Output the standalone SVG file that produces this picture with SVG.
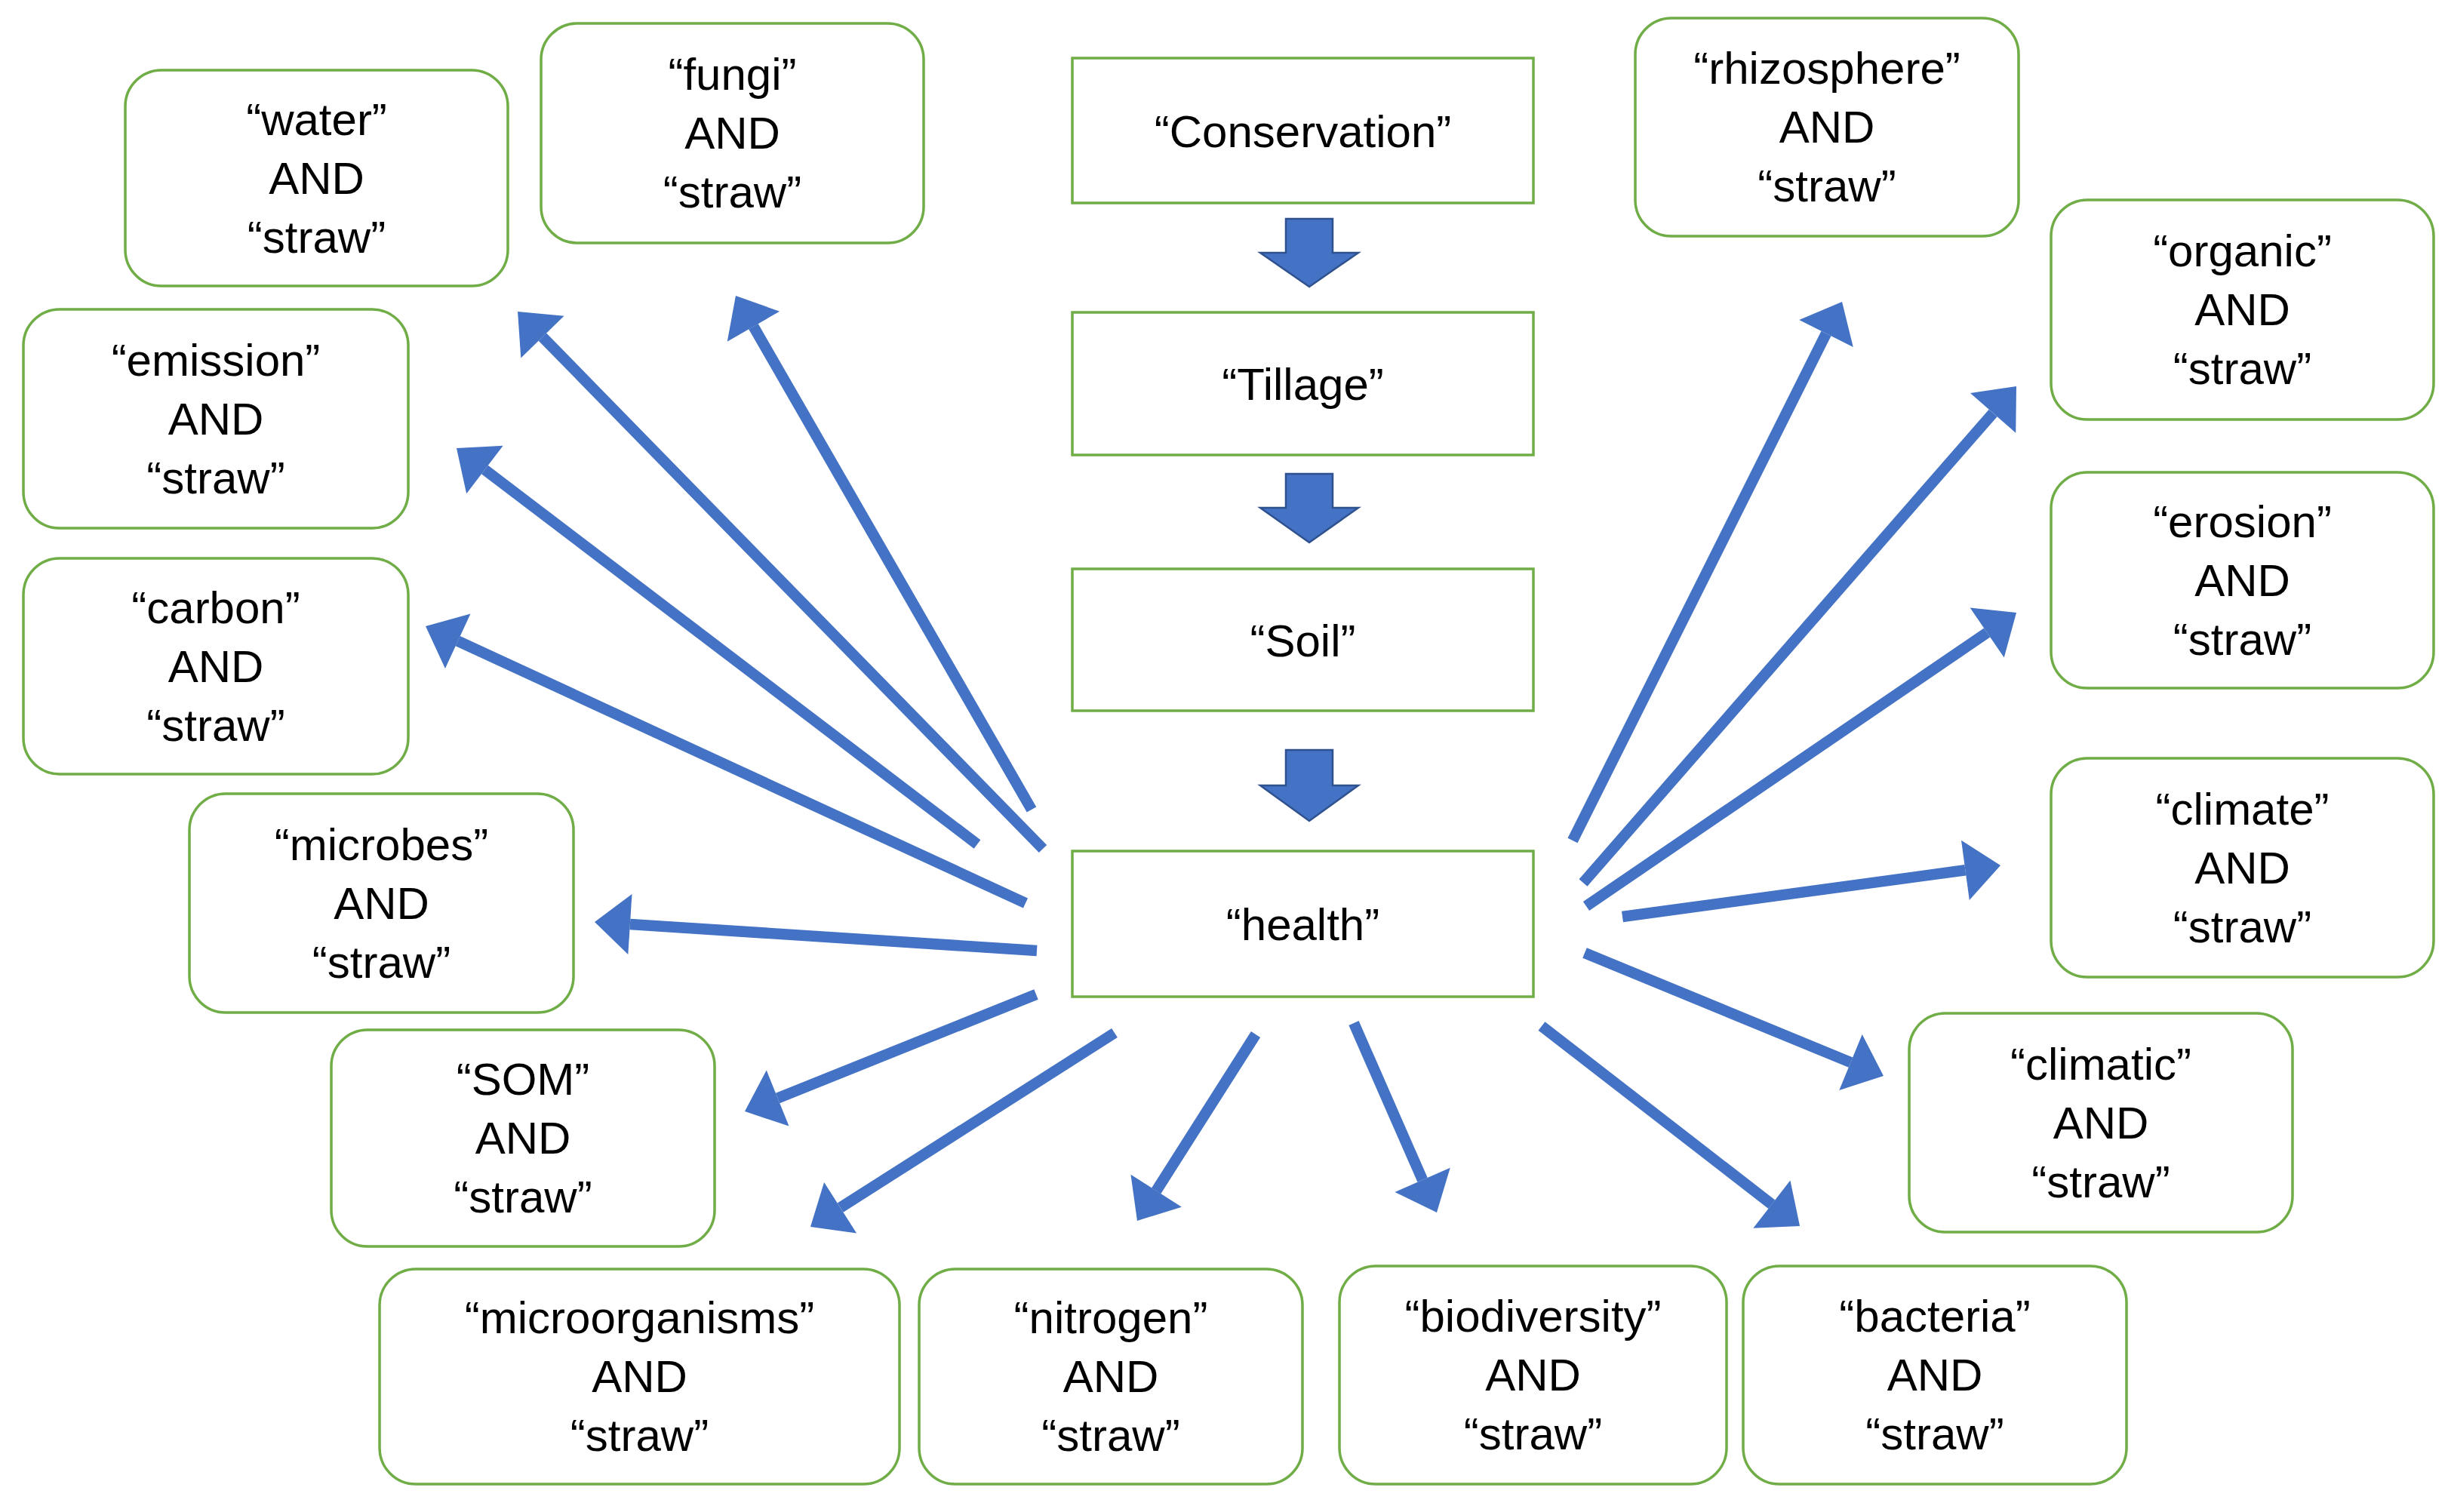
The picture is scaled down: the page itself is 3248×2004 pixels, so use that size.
<svg xmlns="http://www.w3.org/2000/svg" width="3248" height="2004" viewBox="0 0 3248 2004">
<style>
.box{fill:#fff;stroke:#70AD47;stroke-width:3.5}
.t{font-family:"Liberation Sans",Arial,sans-serif;font-size:60px;fill:#000;text-anchor:middle}
.blk{fill:#4472C4;stroke:#2F528F;stroke-width:2.5;stroke-linejoin:miter}
.ln{stroke:#4472C4;stroke-width:14.5;fill:none;stroke-linecap:butt;marker-end:url(#ah)}
</style>
<defs>
<marker id="ah" markerUnits="userSpaceOnUse" markerWidth="50" markerHeight="84" viewBox="0 -42 48 84" refX="0" refY="0" orient="auto">
<path d="M0,-40 L47,0 L0,40 Z" fill="#4472C4"/>
</marker>
</defs>
<rect width="3248" height="2004" fill="#fff"/>

<g id="connectors">
<polygon class="blk" points="1704,290 1766,290 1766,335 1800,335 1735,380 1670,335 1704,335"/>
<polygon class="blk" points="1704,628 1766,628 1766,673 1800,673 1735,719 1670,673 1704,673"/>
<polygon class="blk" points="1704,994 1766,994 1766,1041 1800,1041 1735,1088 1670,1041 1704,1041"/>
<line class="ln" x1="1367" y1="1073" x2="998.4" y2="432.7"/>
<line class="ln" x1="1382" y1="1125" x2="718.9" y2="446.6"/>
<line class="ln" x1="1295" y1="1119" x2="642.4" y2="622.5"/>
<line class="ln" x1="1359" y1="1197" x2="606.7" y2="849.7"/>
<line class="ln" x1="1374" y1="1260" x2="834.9" y2="1225"/>
<line class="ln" x1="1373" y1="1318" x2="1030.6" y2="1455.5"/>
<line class="ln" x1="1477" y1="1369" x2="1113.6" y2="1600.7"/>
<line class="ln" x1="1664" y1="1371" x2="1532.2" y2="1578.3"/>
<line class="ln" x1="1794" y1="1356" x2="1885.1" y2="1563.9"/>
<line class="ln" x1="2043" y1="1360" x2="2347.9" y2="1596.2"/>
<line class="ln" x1="2100" y1="1263" x2="2452.5" y2="1408.1"/>
<line class="ln" x1="2150" y1="1215" x2="2604.4" y2="1153.3"/>
<line class="ln" x1="2102" y1="1201" x2="2633.2" y2="838.5"/>
<line class="ln" x1="2098" y1="1170" x2="2641.1" y2="547.4"/>
<line class="ln" x1="2084" y1="1114" x2="2420" y2="442"/>
</g>

<g id="conservation"><rect class="box" x="1421" y="77" width="611" height="192"/><text class="t" x="1726.5" y="195">“Conservation”</text></g>
<g id="tillage"><rect class="box" x="1421" y="414" width="611" height="189"/><text class="t" x="1726.5" y="530">“Tillage”</text></g>
<g id="soil"><rect class="box" x="1421" y="754" width="611" height="188"/><text class="t" x="1726.5" y="870">“Soil”</text></g>
<g id="health"><rect class="box" x="1421" y="1128" width="611" height="193"/><text class="t" x="1726.5" y="1246">“health”</text></g>

<g id="water"><rect class="box" x="166" y="93" width="507" height="286" rx="48"/>
<text class="t" x="419.5" y="179">“water”</text><text class="t" x="419.5" y="257">AND</text><text class="t" x="419.5" y="335">“straw”</text></g>
<g id="fungi"><rect class="box" x="717" y="31" width="507" height="291" rx="48"/>
<text class="t" x="970.5" y="119">“fungi”</text><text class="t" x="970.5" y="197">AND</text><text class="t" x="970.5" y="275">“straw”</text></g>
<g id="emission"><rect class="box" x="31" y="410" width="510" height="290" rx="48"/>
<text class="t" x="286" y="498">“emission”</text><text class="t" x="286" y="576">AND</text><text class="t" x="286" y="654">“straw”</text></g>
<g id="carbon"><rect class="box" x="31" y="740" width="510" height="286" rx="48"/>
<text class="t" x="286" y="826">“carbon”</text><text class="t" x="286" y="904">AND</text><text class="t" x="286" y="982">“straw”</text></g>
<g id="microbes"><rect class="box" x="251" y="1052" width="509" height="290" rx="48"/>
<text class="t" x="505.5" y="1140">“microbes”</text><text class="t" x="505.5" y="1218">AND</text><text class="t" x="505.5" y="1296">“straw”</text></g>
<g id="som"><rect class="box" x="439" y="1365" width="508" height="287" rx="48"/>
<text class="t" x="693" y="1451">“SOM”</text><text class="t" x="693" y="1529">AND</text><text class="t" x="693" y="1607">“straw”</text></g>
<g id="microorganisms"><rect class="box" x="503" y="1682" width="689" height="285" rx="48"/>
<text class="t" x="847.5" y="1767">“microorganisms”</text><text class="t" x="847.5" y="1845">AND</text><text class="t" x="847.5" y="1923">“straw”</text></g>
<g id="nitrogen"><rect class="box" x="1218" y="1682" width="508" height="285" rx="48"/>
<text class="t" x="1472" y="1767">“nitrogen”</text><text class="t" x="1472" y="1845">AND</text><text class="t" x="1472" y="1923">“straw”</text></g>
<g id="biodiversity"><rect class="box" x="1775" y="1678" width="513" height="289" rx="48"/>
<text class="t" x="2031.5" y="1765">“biodiversity”</text><text class="t" x="2031.5" y="1843">AND</text><text class="t" x="2031.5" y="1921">“straw”</text></g>
<g id="bacteria"><rect class="box" x="2310" y="1678" width="508" height="289" rx="48"/>
<text class="t" x="2564" y="1765">“bacteria”</text><text class="t" x="2564" y="1843">AND</text><text class="t" x="2564" y="1921">“straw”</text></g>
<g id="climatic"><rect class="box" x="2530" y="1343" width="508" height="290" rx="48"/>
<text class="t" x="2784" y="1431">“climatic”</text><text class="t" x="2784" y="1509">AND</text><text class="t" x="2784" y="1587">“straw”</text></g>
<g id="climate"><rect class="box" x="2718" y="1005" width="507" height="290" rx="48"/>
<text class="t" x="2971.5" y="1093">“climate”</text><text class="t" x="2971.5" y="1171">AND</text><text class="t" x="2971.5" y="1249">“straw”</text></g>
<g id="erosion"><rect class="box" x="2718" y="626" width="507" height="286" rx="48"/>
<text class="t" x="2971.5" y="712">“erosion”</text><text class="t" x="2971.5" y="790">AND</text><text class="t" x="2971.5" y="868">“straw”</text></g>
<g id="organic"><rect class="box" x="2718" y="265" width="507" height="291" rx="48"/>
<text class="t" x="2971.5" y="353">“organic”</text><text class="t" x="2971.5" y="431">AND</text><text class="t" x="2971.5" y="509">“straw”</text></g>
<g id="rhizosphere"><rect class="box" x="2167" y="24" width="508" height="289" rx="48"/>
<text class="t" x="2421" y="111">“rhizosphere”</text><text class="t" x="2421" y="189">AND</text><text class="t" x="2421" y="267">“straw”</text></g>
</svg>
